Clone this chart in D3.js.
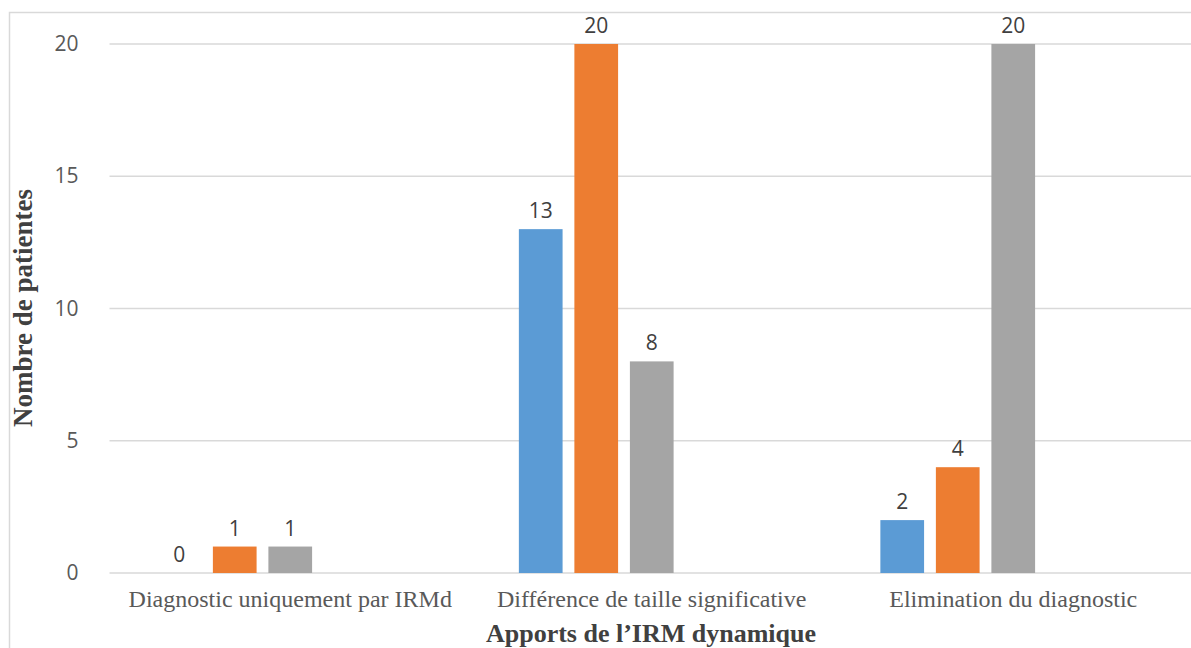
<!DOCTYPE html>
<html>
<head>
<meta charset="utf-8">
<script src="https://cdn.jsdelivr.net/npm/d3@7"></script>
<style>
  body { margin: 0; background: #fff; }
  svg { display: block; }
</style>
</head>
<body>
<svg id="chart" width="1191" height="648"></svg>
<script>
// DATA
const categories = ["Diagnostic uniquement par IRMd", "Différence de taille significative", "Elimination du diagnostic"];
const series1 = [0, 13, 2];
const series2 = [1, 20, 4];
const series3 = [1, 8, 20];
const yTicks = [0, 5, 10, 15, 20];
const yTitle = "Nombre de patientes";
const xTitle = "Apports de l\u2019IRM dynamique";

const seriesList = [series1, series2, series3];
const colors = ["#5b9bd5", "#ed7d31", "#a5a5a5"];
const slots = 5; // the chart keeps room for 5 series, only 3 are filled

const svg = d3.select("#chart");
const plotLeft = 109.5, plotRight = 1194, plotTop = 44, plotBottom = 573;

// chart border
svg.append("rect")
    .attr("x", 9.5).attr("y", 12.5)
    .attr("width", 1200).attr("height", 700)
    .attr("fill", "none").attr("stroke", "#d9d9d9").attr("stroke-width", 1.5);

const x = d3.scaleBand().domain(categories).range([plotLeft, plotRight]);
const y = d3.scaleLinear().domain([0, 20]).range([plotBottom, plotTop]);

// bar geometry like excel: gap 219%, overlap -27%
const barW = x.bandwidth() / (slots + (slots - 1) * 0.27 + 2.19);
const step = barW * 1.27;
const outer = barW * 1.095;

// GRIDLINES
svg.append("g").selectAll("line")
    .data(yTicks.filter(d => d > 0))
    .enter().append("line")
    .attr("x1", plotLeft).attr("x2", plotRight)
    .attr("y1", d => y(d)).attr("y2", d => y(d))
    .attr("stroke", "#d9d9d9").attr("stroke-width", 1.3);

// y axis labels
const yAxis = svg.append("g")
    .attr("transform", "translate(" + (plotLeft - 31) + ",0)")
    .call(d3.axisLeft(y).tickValues(yTicks).tickSize(0).tickPadding(0));
yAxis.select(".domain").remove();
yAxis.selectAll("text")
    .attr("fill", "#595959")
    .style("font-family", "'Open Sans', sans-serif")
    .style("font-size", "21px");

// baseline
svg.append("line")
    .attr("x1", plotLeft).attr("x2", plotRight)
    .attr("y1", plotBottom).attr("y2", plotBottom)
    .attr("stroke", "#d9d9d9").attr("stroke-width", 1.5);

// BARS
seriesList.forEach(function(vals, i){
    const g = svg.append("g");
    const bx = function(d, j){ return x(categories[j]) + outer + i * step; };
    g.selectAll("rect")
        .data(vals)
        .enter().append("rect")
        .attr("x", bx)
        .attr("y", d => y(d))
        .attr("width", barW)
        .attr("height", d => plotBottom - y(d))
        .attr("fill", colors[i]);
    g.selectAll("text")
        .data(vals)
        .enter().append("text")
        .attr("x", (d, j) => bx(d, j) + barW / 2)
        .attr("y", d => y(d) - 11)
        .attr("text-anchor", "middle")
        .attr("fill", "#404040")
        .style("font-family", "'Open Sans', sans-serif")
        .style("font-size", "21px")
        .text(d => d);
});

// category labels
svg.append("g").selectAll("text")
    .data(categories)
    .enter().append("text")
    .attr("x", d => x(d) + x.bandwidth() / 2)
    .attr("y", 607)
    .attr("text-anchor", "middle")
    .attr("fill", "#595959")
    .style("font-family", "'Liberation Serif', serif")
    .style("font-size", "24px")
    .text(d => d);

// axis titles
svg.append("text")
    .attr("x", 651).attr("y", 642)
    .attr("text-anchor", "middle")
    .attr("fill", "#404040")
    .style("font-family", "'Liberation Serif', serif")
    .style("font-weight", "bold")
    .style("font-size", "26px")
    .text(xTitle);

svg.append("text")
    .attr("transform", "translate(32,308) rotate(-90)")
    .attr("text-anchor", "middle")
    .attr("fill", "#404040")
    .style("font-family", "'Liberation Serif', serif")
    .style("font-weight", "bold")
    .style("font-size", "27px")
    .text(yTitle);
</script>
</body>
</html>
